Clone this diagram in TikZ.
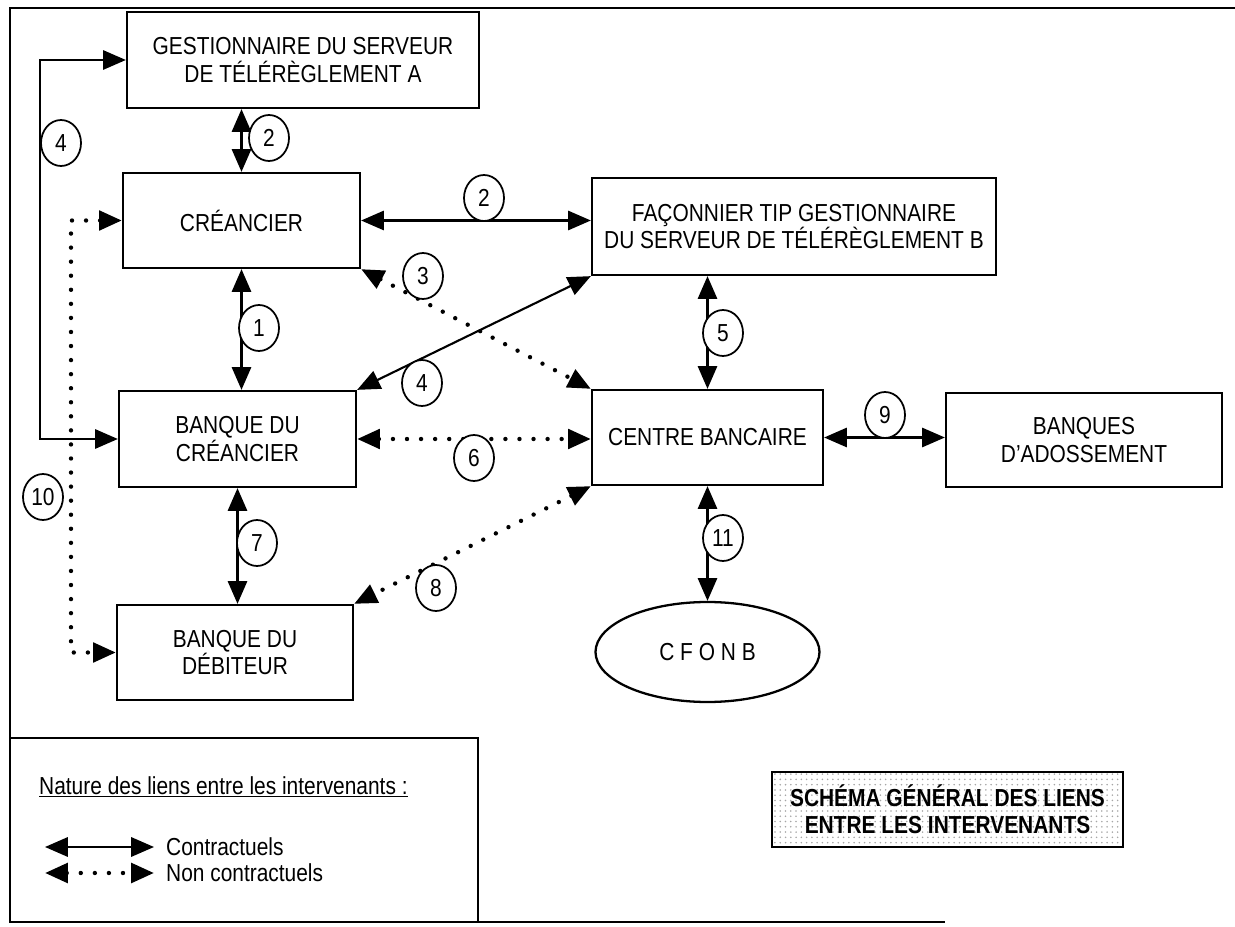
\documentclass[tikz,border=0pt]{standalone}
\usepackage{fontspec}
\setmainfont{Liberation Sans}[FakeStretch=0.85]
\usepackage{tikz}
\usetikzlibrary{arrows.meta, shapes.geometric, patterns, positioning, calc}

\tikzset{
  box/.style={draw, line width=1.3pt, align=center, inner sep=0pt},
  link/.style={line width=1.2pt, {Triangle[length=13pt,width=11pt]}-{Triangle[length=13pt,width=11pt]}},
  nlink/.style={link, line width=2.5pt, line cap=round, dash pattern=on 0pt off 8pt},
  num/.style={draw, ellipse, fill=white, line width=1pt, inner sep=0pt, minimum width=0.8cm, minimum height=0.92cm}
}

\begin{document}
\begin{tikzpicture}[font=\fontsize{14}{15.5}\selectfont]
      \useasboundingbox (0,0) rectangle (24.7,-18.54);
      % frame
      \draw [line width=1.3pt] (24.7,-0.16) -- (0.2,-0.16) -- (0.2,-18.44) -- (18.9,-18.44);

      \node [box, minimum width=7.04cm, minimum height=1.92cm] (GA) at (6.06,-1.2) {GESTIONNAIRE DU SERVEUR\\DE TÉLÉRÈGLEMENT A};
      \node [box, minimum width=4.74cm, minimum height=1.9cm] (CR) at (4.83,-4.41) {CRÉANCIER};
      \node [box, minimum width=8.08cm, minimum height=1.94cm] (FB) at (15.88,-4.53) {FAÇONNIER TIP GESTIONNAIRE\\DU SERVEUR DE TÉLÉRÈGLEMENT B};
      \node [box, minimum width=4.74cm, minimum height=1.92cm] (BC) at (4.75,-8.78) {BANQUE DU\\CRÉANCIER};
      \node [box, minimum width=4.62cm, minimum height=1.9cm] (CB) at (14.15,-8.75) {CENTRE BANCAIRE};
      \node [box, minimum width=5.52cm, minimum height=1.88cm] (BA) at (21.68,-8.8) {BANQUES\\D'ADOSSEMENT};
      \node [box, minimum width=4.72cm, minimum height=1.9cm] (BD) at (4.7,-13.05) {BANQUE DU\\DÉBITEUR};
      \node [box, ellipse, minimum width=4.48cm, minimum height=2cm] (CF) at (14.15,-13.04) {C F O N B};

      % links
      \coordinate (L4) at (0.8,0);
      \coordinate (L10) at (1.42,0);
      \draw [link] (GA.west) -| (L4 |- BC.west) -- (BC.west);
      \draw [link] (CR.north) -- (CR.north |- GA.south);
      \draw [link] (CR.east) -- (CR.east -| FB.west);
      \draw [nlink] (CR.south east) -- (CB.north west);
      \draw [link] (CR.south) -- (CR.south |- BC.north);
      \draw [link] (BC.north east) -- (FB.south west);
      \draw [link] (CB.north |- FB.south) -- (CB.north);
      \draw [nlink] (BC.east) -- (BC.east -| CB.west);
      \draw [link] (CB.east) -- (CB.east -| BA.west);
      \draw [link] (BC.south) -- (BC.south |- BD.north);
      \draw [nlink] (CB.south west) -- (BD.north east);
      \draw [link] (CB.south) -- (CF.north);
      \draw [nlink] (CR.west) -| (L10 |- BD.west) -- (BD.west);

      % numbers
      \node [num] (N4a) at (1.22,-2.86) {4};
      \node [num] (N2a) at (5.38,-2.76) {2};
      \node [num] (N2b) at (9.68,-3.96) {2};
      \node [num] (N3) at (8.46,-5.52) {3};
      \node [num] (N1) at (5.18,-6.56) {1};
      \node [num] (N4b) at (8.44,-7.66) {4};
      \node [num] (N5) at (14.46,-6.66) {5};
      \node [num] (N6) at (9.48,-9.16) {6};
      \node [num] (N9) at (17.7,-8.3) {9};
      \node [num] (N7) at (5.14,-10.86) {7};
      \node [num] (N8) at (8.72,-11.76) {8};
      \node [num] (N11) at (14.46,-10.76) {11};
      \node [num] (N10) at (0.86,-9.94) {10};

      % legend
      \draw [line width=1.3pt] (0.2,-14.76) -- (9.56,-14.76) -- (9.56,-18.44);
      \node [anchor=west] (NT) at (0.66,-15.74) {\underline{Nature des liens entre les intervenants :}};
      \coordinate (CA) at (0.9,-16.94);
      \coordinate (CB2) at (3.08,-16.94);
      \coordinate (NA) at (0.9,-17.46);
      \coordinate (NB) at (3.08,-17.46);
      \draw [link] (CA) -- (CB2);
      \draw [nlink] (NA) -- (NB);
      \node [anchor=west] (LC) at (3.2,-16.94) {Contractuels};
      \node [anchor=west] (LN) at (3.2,-17.46) {Non contractuels};

      % title
      \node [draw, line width=1.3pt, pattern=dots, pattern color=gray!70, minimum width=7.02cm, minimum height=1.5cm, align=center, font=\fontsize{14}{15.5}\selectfont\bfseries] (TT) at (18.95,-16.19) {SCHÉMA GÉNÉRAL DES LIENS\\ENTRE LES INTERVENANTS};
    \end{tikzpicture}
\end{document}
